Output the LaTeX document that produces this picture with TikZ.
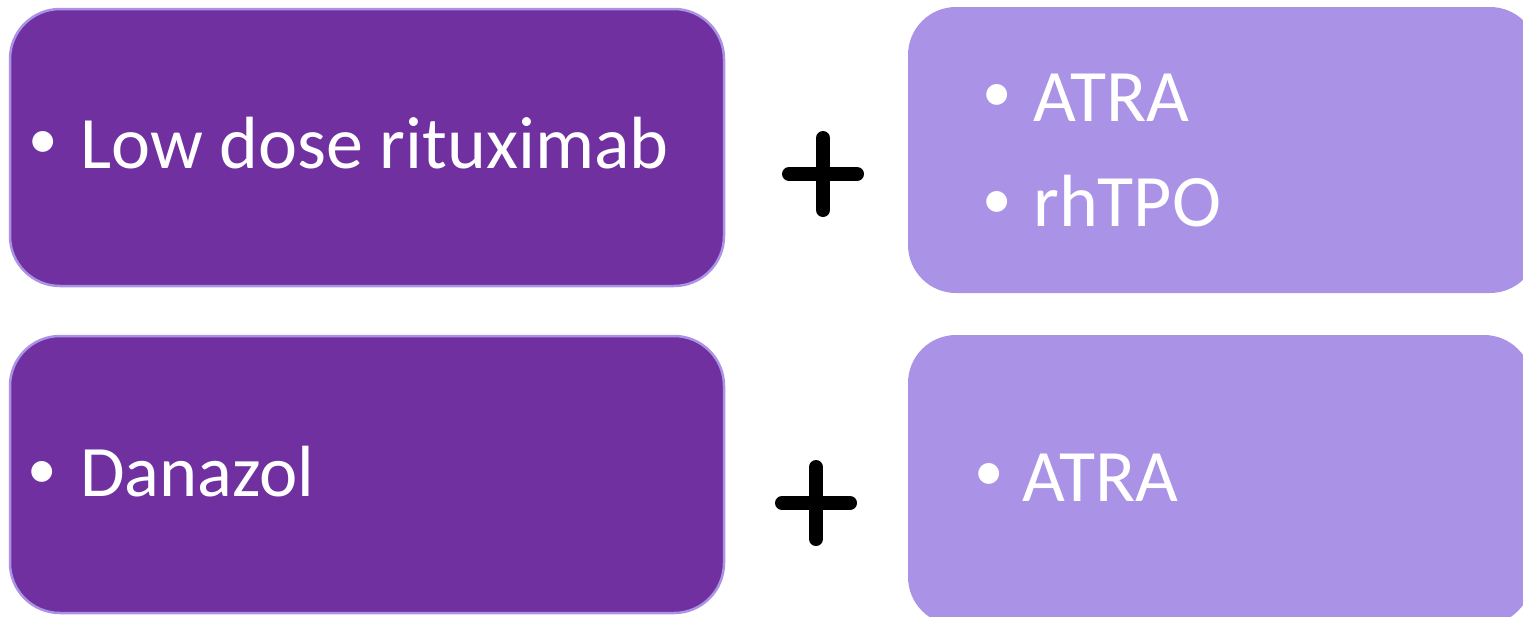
\documentclass[tikz,border=0pt]{standalone}
\usepackage{fontspec}
\setmainfont{Carlito}
\begin{document}
\begin{tikzpicture}[x=1pt,y=-1pt,
  darkbox/.style={fill=dpurple,draw=lpurple,line width=2.5pt,rounded corners=50pt},
  lightbox/.style={fill=lpurple,rounded corners=48pt},
  txt/.style={text=white,inner sep=0pt,anchor=base west},
  bul/.style={txt,font=\fontsize{59}{70}\selectfont},
  plusbar/.style={line width=14pt,line cap=round,black}]
\definecolor{dpurple}{HTML}{7030A0}
\definecolor{lpurple}{HTML}{AA93E6}
\useasboundingbox (0,0) rectangle (1523,616);
\clip (0,0) rectangle (1523,616);
% boxes
\draw[darkbox] (10,9) rectangle (724,286);
\draw[darkbox] (10,336) rectangle (724,613);
\fill[lightbox] (908,7) rectangle (1538,293);
\fill[lightbox] (908,335) rectangle (1532,625);
% plus signs
\coordinate (p1) at (823,174);
\coordinate (p2) at (816,503);
\draw[plusbar] ([xshift=-34pt]p1) -- ([xshift=34pt]p1);
\draw[plusbar] ([yshift=-36pt]p1) -- ([yshift=36pt]p1);
\draw[plusbar] ([xshift=-34pt]p2) -- ([xshift=34pt]p2);
\draw[plusbar] ([yshift=-36pt]p2) -- ([yshift=36pt]p2);
% texts
\node[bul] (b1) at (28.7,158.9) {•};
\node[txt,font=\fontsize{74}{88}\selectfont] (t1) at (80,168) {Low dose rituximab};
\node[bul] (b2) at (982.2,111.9) {•};
\node[txt,font=\fontsize{74}{88}\selectfont] (t2) at (1033,121) {ATRA};
\node[bul] (b3) at (982.2,218.9) {•};
\node[txt,font=\fontsize{74}{88}\selectfont] (t3) at (1033,226) {rhTPO};
\node[bul] (b4) at (27.2,488.9) {•};
\node[txt,font=\fontsize{72.5}{88}\selectfont] (t4) at (80,496) {Danazol};
\node[bul] (b5) at (974.2,490.9) {•};
\node[txt,font=\fontsize{74}{88}\selectfont] (t5) at (1022,501) {ATRA};
\end{tikzpicture}
\end{document}
